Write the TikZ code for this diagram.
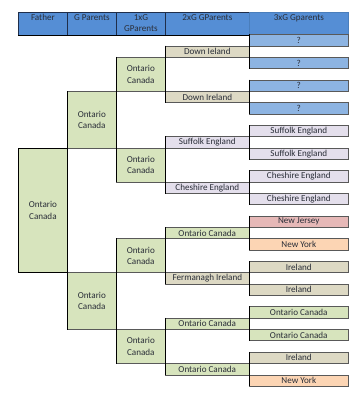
\documentclass[tikz,border=0pt]{standalone}
\usepackage{fontspec}
\setmainfont{Carlito}
\definecolor{hdr}{HTML}{558ED5}
\definecolor{hdrline}{HTML}{1F2E4A}
\definecolor{hdrlight}{HTML}{4A7EBB}
\definecolor{qblue}{HTML}{8DB4E2}
\definecolor{mygrn}{HTML}{D7E4BD}
\definecolor{mytan}{HTML}{DDD9C4}
\definecolor{mylav}{HTML}{E4DFEC}
\definecolor{mypink}{HTML}{E6B8B7}
\definecolor{mypeach}{HTML}{FCD5B4}
\definecolor{cellline}{HTML}{595959}
\definecolor{txt}{HTML}{2A2E38}
\begin{document}
\begin{tikzpicture}[x=1pt,y=-1pt,
  cell/.style={draw=cellline, line width=0.6pt, inner sep=0pt, anchor=north west,
    minimum height=11.34pt, text=txt, align=center,
    font=\fontsize{9.1}{11.3}\selectfont},
  hcell/.style={cell, draw=hdrline, fill=hdr, line width=0.8pt, minimum height=22.3pt},
  bracket/.style={draw=black, line width=0.8pt}]
\useasboundingbox (0,0) rectangle (364,400);
% header
\node[hcell, minimum width=49pt] (hF) at (18,12) {\strut Father\\\strut};
\node[hcell, minimum width=49pt] (hG) at (67,12) {\strut G Parents\\\strut};
\node[hcell, minimum width=49pt] (h1) at (116,12) {\strut 1xG\\\strut GParents};
\node[hcell, minimum width=84pt] (h2) at (165,12) {\strut 2xG GParents\\\strut};
\node[hcell, draw=hdrlight, minimum width=99pt] (h3) at (249,12) {\strut 3xG Gparents\\\strut};
% 3xG
\foreach \r/\c/\t [count=\i] in {0/qblue/?, 2/qblue/?, 4/qblue/?, 6/qblue/?,
  8/mylav/Suffolk England, 10/mylav/Suffolk England, 12/mylav/Cheshire England, 14/mylav/Cheshire England,
  16/mypink/New Jersey, 18/mypeach/New York, 20/mytan/Ireland, 22/mytan/Ireland,
  24/mygrn/Ontario Canada, 26/mygrn/Ontario Canada, 28/mytan/Ireland, 30/mypeach/New York}
  \node[cell, fill=\c, minimum width=99pt] (t\i) at (249,{34.3+\r*11.34}) {\t};
% 2xG
\foreach \r/\c/\t [count=\i] in {1/mytan/Down Ieland, 5/mytan/Down Ireland,
  9/mylav/Suffolk England, 13/mylav/Cheshire England, 17/mygrn/Ontario Canada,
  21/mytan/Fermanagh Ireland, 25/mygrn/Ontario Canada, 29/mygrn/Ontario Canada}
  \node[cell, fill=\c, minimum width=84pt] (s\i) at (165,{34.3+\r*11.34}) {\t};
% 1xG
\foreach \r [count=\i] in {2,10,18,26}
  \node[cell, fill=mygrn, minimum width=49pt, minimum height=34.02pt] (p\i) at (116,{34.3+\r*11.34}) {Ontario\\Canada};
% G parents
\foreach \r [count=\i] in {5,21}
  \node[cell, fill=mygrn, minimum width=49pt, minimum height=56.7pt] (g\i) at (67,{34.3+\r*11.34}) {Ontario\\Canada};
% Father
\node[cell, fill=mygrn, draw=black, line width=0.8pt, minimum width=49pt, minimum height=124.74pt] (f) at (18,{34.3+10*11.34}) {Ontario\\Canada};
% brackets
\foreach \a/\b in {1/2,3/4,5/6,7/8,9/10,11/12,13/14,15/16}
  \draw[bracket] (t\a.north west) -- (t\b.south west);
\foreach \a/\b in {1/2,3/4,5/6,7/8}
  \draw[bracket] (s\a.north west) -- (s\b.south west);
\foreach \a/\b in {1/2,3/4}
  \draw[bracket] (p\a.north west) -- (p\b.south west);
\draw[bracket] (g1.north west) -- (g2.south west);
\draw[bracket] (hF.south west) -- (h2.south east);
\end{tikzpicture}
\end{document}
